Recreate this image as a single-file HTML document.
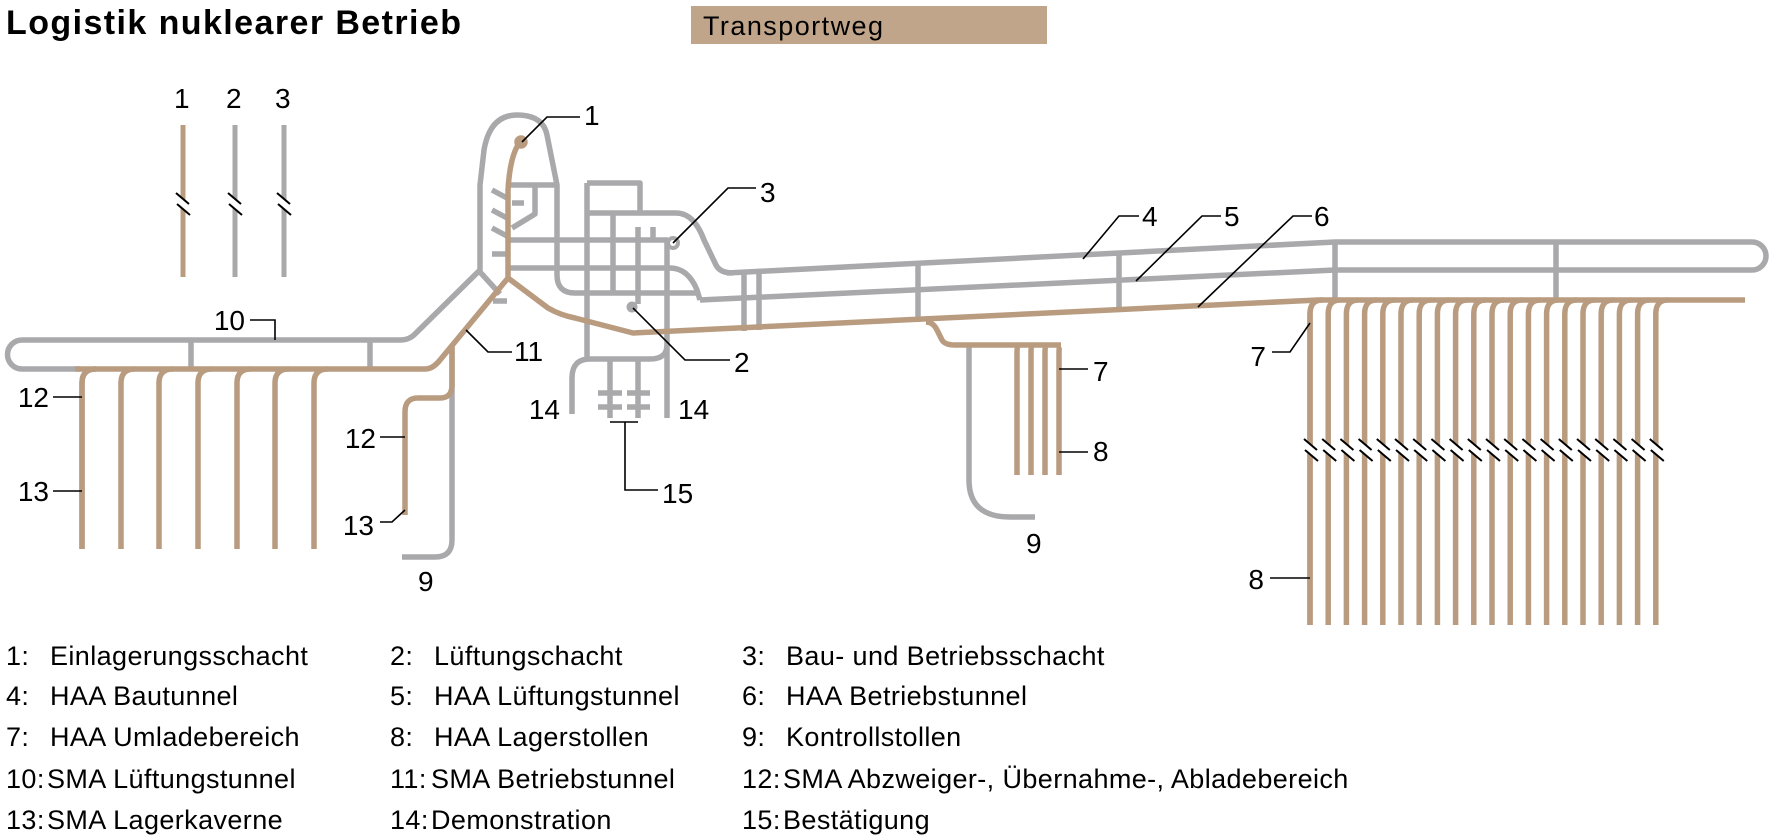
<!DOCTYPE html>
<html><head><meta charset="utf-8"><style>
html,body{margin:0;padding:0;background:#fff;}
svg{display:block;}
text{font-family:"Liberation Sans",Arial,sans-serif;fill:#000;}
</style></head><body>
<svg width="1772" height="839" viewBox="0 0 1772 839" xmlns="http://www.w3.org/2000/svg">
<defs>
<g id="brk">
<polygon points="-8,-7 8,7 8,15 -8,1" fill="#fff"/>
<line x1="-7" y1="-7" x2="6" y2="4" stroke="#000" stroke-width="2"/>
<line x1="-6" y1="4" x2="7" y2="15" stroke="#000" stroke-width="2"/>
</g>
</defs>
<text x="6" y="34" font-size="34" font-weight="bold" textLength="455">Logistik nuklearer Betrieb</text>
<rect x="691" y="6" width="356" height="38" fill="#c0a58a"/>
<text x="703" y="35" font-size="27" textLength="180">Transportweg</text>

<g font-size="28">
<text x="174" y="108">1</text><text x="226" y="108">2</text><text x="275" y="108">3</text>
</g>
<g stroke-width="5" fill="none" stroke-linecap="butt">
<line x1="183" y1="125" x2="183" y2="277" stroke="#b99c80"/>
<line x1="235" y1="125" x2="235" y2="277" stroke="#a9a8ab"/>
<line x1="284" y1="125" x2="284" y2="277" stroke="#a9a8ab"/>
</g>
<use href="#brk" x="183" y="200"/><use href="#brk" x="235" y="200"/><use href="#brk" x="284" y="200"/>

<g stroke="#a9a8ab" stroke-width="5.5" fill="none" stroke-linejoin="round">
<path d="M80 369 H22 A14.5 14.5 0 0 1 22 340 H400 Q410 340 416 333 L480 270 V185 L484 150 Q490 115 517 115 Q543 115 547 135 L557 185"/>
<line x1="191" y1="340" x2="191" y2="369"/>
<line x1="370" y1="340" x2="370" y2="369"/>
<path d="M480 272 L500 294 M493 301 H507"/>
<path d="M508 185 H557 V275 Q557 293 575 293 H700"/>
<path d="M535 185 V214 L512 228"/>
<path d="M512 203 H524"/>
<path d="M492 190 L507 198 M492 210 L507 218 M492 228 L507 236 M492 254 H507"/>
<path d="M508 240 H668"/>
<path d="M508 268 H670 Q688 268 697 290 L700 300"/>
<path d="M587 183 H640 V213"/>
<path d="M587 183 V359"/>
<path d="M587 213 H676 Q694 213 704 240 L716 265 Q720 273 733 273"/>
<line x1="613" y1="213" x2="613" y2="293"/>
<line x1="638" y1="227" x2="638" y2="304"/>
<line x1="653" y1="227" x2="653" y2="240"/>
<line x1="667" y1="240" x2="667" y2="418"/>
<circle cx="673" cy="243" r="5" stroke-width="4"/>
<circle cx="632" cy="307" r="4.5" fill="#a9a8ab" stroke-width="2"/>
<path d="M572 414 V378 Q572 359 590 359 H650 Q667 359 667 345"/>
<line x1="610" y1="359" x2="610" y2="418"/>
<line x1="638" y1="359" x2="638" y2="418"/>
<path d="M598 393 H622 M598 407 H622 M627 393 H650 M627 407 H650"/>
<path d="M452 345 V540 Q452 557 435 557 H402"/>
<path d="M727 273 L1335 242 H1752 A14 14 0 0 1 1752 270 H1335 L700 300"/>
<line x1="744" y1="272" x2="744" y2="331"/>
<line x1="759" y1="271" x2="759" y2="330"/>
<line x1="918" y1="264" x2="918" y2="322"/>
<line x1="1119" y1="252" x2="1119" y2="310"/>
<line x1="1335" y1="242" x2="1335" y2="300"/>
<line x1="1556" y1="242" x2="1556" y2="300"/>
<path d="M969 345 V480 Q969 517 1010 517 H1035"/>
</g>

<g stroke="#b99c80" stroke-width="5.5" fill="none" stroke-linejoin="round">
<path d="M75 369 H425 Q433 369 440 360 L508 278 V190 Q510 155 520 142"/>
<circle cx="521" cy="142" r="4" fill="#b99c80"/>
<path d="M508 278 L548 308 Q560 315 575 318 L633 333 L1318 300 H1745"/>
<path d="M452 345 V385 Q452 398 440 398 H418 Q405 398 405 412 V515"/>
<path d="M926 322 Q933 322 937 330 L942 340 Q945 345 955 345 H1060"/>
<path d="M1019 345 Q1017 345 1017 352 V475 M1033 345 Q1031 345 1031 352 V475 M1047 345 Q1045 345 1045 352 V475 M1061 345 Q1059 345 1059 352 V475"/>
<g id="smaS"><path d="M96 369 Q82 369 82 383 V549"/></g>
<use href="#smaS" x="0"/><use href="#smaS" x="39"/><use href="#smaS" x="77"/><use href="#smaS" x="116"/><use href="#smaS" x="155"/><use href="#smaS" x="193"/><use href="#smaS" x="232"/>
<g id="haaS"><path d="M1322 300 Q1310 300 1310 314 V625"/></g>
<use href="#haaS" x="0"/><use href="#haaS" x="18.2"/><use href="#haaS" x="36.4"/><use href="#haaS" x="54.6"/><use href="#haaS" x="72.8"/><use href="#haaS" x="91"/><use href="#haaS" x="109.2"/><use href="#haaS" x="127.4"/><use href="#haaS" x="145.6"/><use href="#haaS" x="163.8"/><use href="#haaS" x="182"/><use href="#haaS" x="200.2"/><use href="#haaS" x="218.4"/><use href="#haaS" x="236.6"/><use href="#haaS" x="254.8"/><use href="#haaS" x="273"/><use href="#haaS" x="291.2"/><use href="#haaS" x="309.4"/><use href="#haaS" x="327.6"/><use href="#haaS" x="345.8"/>
</g>
<g>
<use href="#brk" x="1311" y="446"/><use href="#brk" x="1329.2" y="446"/><use href="#brk" x="1347.4" y="446"/><use href="#brk" x="1365.6" y="446"/><use href="#brk" x="1383.8" y="446"/><use href="#brk" x="1402" y="446"/><use href="#brk" x="1420.2" y="446"/><use href="#brk" x="1438.4" y="446"/><use href="#brk" x="1456.6" y="446"/><use href="#brk" x="1474.8" y="446"/><use href="#brk" x="1493" y="446"/><use href="#brk" x="1511.2" y="446"/><use href="#brk" x="1529.4" y="446"/><use href="#brk" x="1547.6" y="446"/><use href="#brk" x="1565.8" y="446"/><use href="#brk" x="1584" y="446"/><use href="#brk" x="1602.2" y="446"/><use href="#brk" x="1620.4" y="446"/><use href="#brk" x="1638.6" y="446"/><use href="#brk" x="1656.8" y="446"/>
</g>

<g stroke="#000" stroke-width="1.6" fill="none">
<path d="M522 142 L547 117 H580"/>
<path d="M633 308 L685 360 H730"/>
<path d="M673 243 L728 188 H756"/>
<path d="M1083 259 L1119 216 H1139"/>
<path d="M1136 281 L1202 216 H1221"/>
<path d="M1198 307 L1293 216 H1312"/>
<path d="M250 320 H275 V340"/>
<path d="M466 330 L488 352 H512"/>
<path d="M53 397 H82 M53 491 H82"/>
<path d="M380 437 H405 M380 522 H392 L405 510"/>
<path d="M610 422 H638 M625 422 V490 H658"/>
<path d="M1059 369 H1088 M1059 452 H1088"/>
<path d="M1272 352 H1290 L1310 323 M1270 578 H1310"/>
</g>
<g font-size="28">
<text x="584" y="125">1</text>
<text x="734" y="372">2</text>
<text x="760" y="202">3</text>
<text x="1142" y="226">4</text>
<text x="1224" y="226">5</text>
<text x="1314" y="226">6</text>
<text x="1093" y="381">7</text>
<text x="1093" y="461">8</text>
<text x="1266" y="366" text-anchor="end">7</text>
<text x="1264" y="589" text-anchor="end">8</text>
<text x="1026" y="553">9</text>
<text x="418" y="591">9</text>
<text x="245" y="330" text-anchor="end">10</text>
<text x="514" y="361">11</text>
<text x="49" y="407" text-anchor="end">12</text>
<text x="49" y="501" text-anchor="end">13</text>
<text x="376" y="448" text-anchor="end">12</text>
<text x="374" y="535" text-anchor="end">13</text>
<text x="560" y="419" text-anchor="end">14</text>
<text x="678" y="419">14</text>
<text x="662" y="503">15</text>
</g>

<g font-size="27" letter-spacing="0.4">
<text x="6" y="665">1:</text><text x="50" y="665">Einlagerungsschacht</text>
<text x="390" y="665">2:</text><text x="434" y="665">Lüftungschacht</text>
<text x="742" y="665">3:</text><text x="786" y="665">Bau- und Betriebsschacht</text>
<text x="6" y="705">4:</text><text x="50" y="705">HAA Bautunnel</text>
<text x="390" y="705">5:</text><text x="434" y="705">HAA Lüftungstunnel</text>
<text x="742" y="705">6:</text><text x="786" y="705">HAA Betriebstunnel</text>
<text x="6" y="746">7:</text><text x="50" y="746">HAA Umladebereich</text>
<text x="390" y="746">8:</text><text x="434" y="746">HAA Lagerstollen</text>
<text x="742" y="746">9:</text><text x="786" y="746">Kontrollstollen</text>
<text x="6" y="788">10:</text><text x="47" y="788">SMA Lüftungstunnel</text>
<text x="390" y="788">11:</text><text x="431" y="788">SMA Betriebstunnel</text>
<text x="742" y="788">12:</text><text x="783" y="788">SMA Abzweiger-, Übernahme-, Abladebereich</text>
<text x="6" y="829">13:</text><text x="47" y="829">SMA Lagerkaverne</text>
<text x="390" y="829">14:</text><text x="431" y="829">Demonstration</text>
<text x="742" y="829">15:</text><text x="783" y="829">Bestätigung</text>
</g>
</svg>
</body></html>
